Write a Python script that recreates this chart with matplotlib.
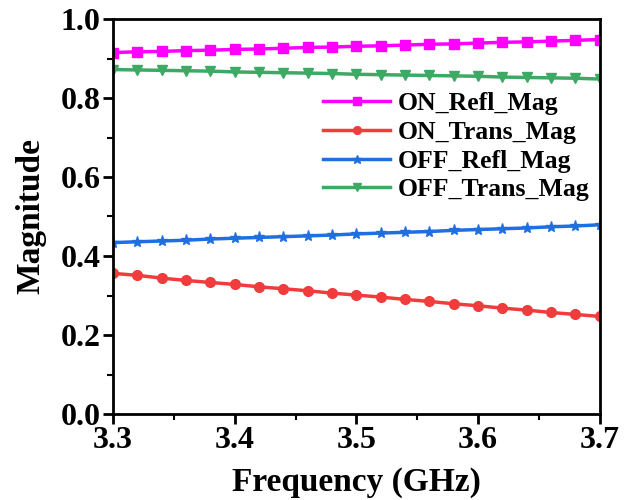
import numpy as np
import matplotlib.pyplot as plt
from matplotlib.ticker import MultipleLocator

freq = [3.30, 3.32, 3.34, 3.36, 3.38, 3.40, 3.42, 3.44, 3.46, 3.48, 3.50,
        3.52, 3.54, 3.56, 3.58, 3.60, 3.62, 3.64, 3.66, 3.68, 3.70]
on_refl = [0.915, 0.917, 0.918, 0.920, 0.921, 0.923, 0.924, 0.926, 0.928, 0.929, 0.931,
           0.932, 0.934, 0.936, 0.937, 0.939, 0.941, 0.942, 0.944, 0.946, 0.948]
on_trans = [0.356, 0.351, 0.344, 0.338, 0.333, 0.328, 0.322, 0.317, 0.312, 0.306, 0.301,
            0.296, 0.290, 0.285, 0.279, 0.274, 0.268, 0.263, 0.257, 0.252, 0.247]
off_refl = [0.434, 0.436, 0.438, 0.440, 0.443, 0.445, 0.447, 0.449, 0.451, 0.453, 0.456,
            0.458, 0.460, 0.462, 0.465, 0.467, 0.469, 0.471, 0.474, 0.476, 0.479]
off_trans = [0.872, 0.871, 0.870, 0.869, 0.868, 0.866, 0.865, 0.864, 0.863, 0.862, 0.860,
             0.859, 0.858, 0.857, 0.856, 0.855, 0.853, 0.852, 0.851, 0.850, 0.848]

plt.rcParams['font.family'] = ['Liberation Serif', 'DejaVu Serif']
plt.rcParams['font.weight'] = 'bold'

fig = plt.figure(figsize=(6.32, 5), dpi=100)
ax = fig.add_axes([0.179, 0.172, 0.770, 0.790])

ax.plot(freq, on_refl, color='#ff00ff', lw=2.5, marker='s', ms=7, label='ON_Refl_Mag')
ax.plot(freq, on_trans, color='#f03c3c', lw=2.5, marker='o', ms=7, label='ON_Trans_Mag')
ax.plot(freq, off_refl, color='#1f6fe0', lw=2.5, marker='*', ms=8, label='OFF_Refl_Mag')
ax.plot(freq, off_trans, color='#3caa64', lw=2.5, marker='v', ms=7, label='OFF_Trans_Mag')

ax.set_xlim(3.3, 3.7)
ax.set_ylim(0, 1.0)
ax.xaxis.set_minor_locator(MultipleLocator(0.05))
ax.yaxis.set_major_locator(MultipleLocator(0.2))
ax.yaxis.set_minor_locator(MultipleLocator(0.1))
ax.set_xticks([3.3, 3.4, 3.5, 3.6, 3.7])
ax.set_xticklabels(['3.3', '3.4', '3.5', '3.6', '3.7'])

for s in ax.spines.values():
    s.set_linewidth(2)
ax.tick_params(which='major', direction='out', length=7, width=2, labelsize=23, pad=2)
ax.tick_params(which='minor', direction='out', length=4, width=1.5)

ax.set_xlabel('Frequency (GHz)', fontsize=24, fontweight='bold', labelpad=8)
ax.set_ylabel('Magnitude', fontsize=24, fontweight='bold', labelpad=10)

ax.legend(loc='upper right', bbox_to_anchor=(1.0, 0.84), frameon=False, fontsize=18.5,
          handlelength=2.6, handletextpad=0.3, labelspacing=0.22, borderaxespad=0.0,
          markerscale=0.8)

fig.savefig('out.png', dpi=100)
